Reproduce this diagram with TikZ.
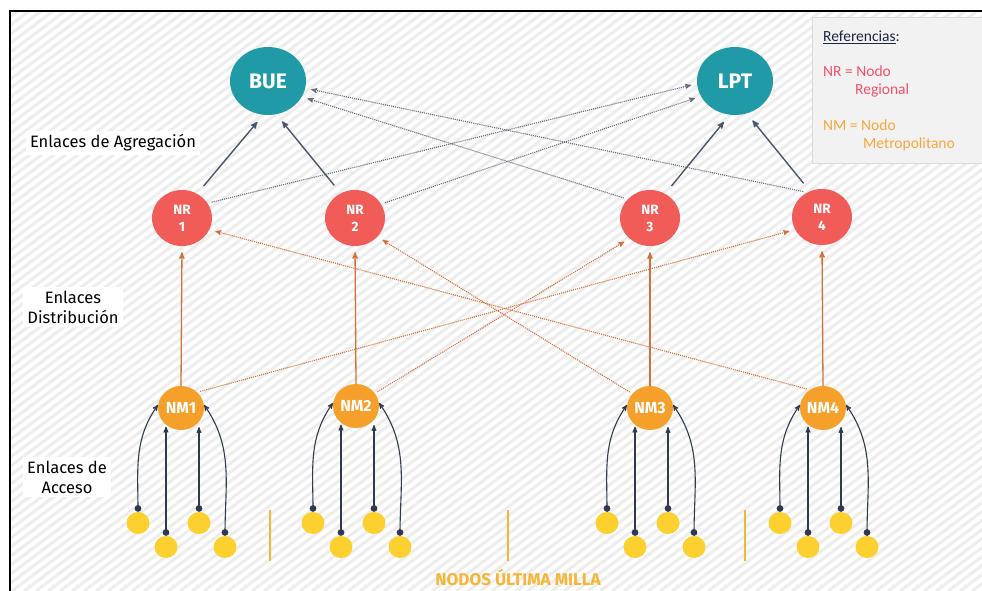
\documentclass[tikz,border=0pt]{standalone}
\usepackage{fontspec}
\setmainfont{Fira Sans}
\newfontfamily\legendfont{Carlito}
\usepackage{tikz}
\usetikzlibrary{arrows,shapes,positioning}

\definecolor{coreteal}{HTML}{1F9AA6}
\definecolor{nrred}{HTML}{F25C58}
\definecolor{nmorange}{HTML}{F4A02A}
\definecolor{dotyellow}{HTML}{FCD12F}
\definecolor{slate}{HTML}{4B5567}
\definecolor{distorange}{HTML}{D2703A}
\definecolor{accessnavy}{HTML}{2F3A4E}
\definecolor{millayellow}{HTML}{F7B535}
\definecolor{refnavy}{HTML}{1C2541}
\definecolor{refpink}{HTML}{F5506C}
\definecolor{reforange}{HTML}{F8A63C}

\begin{document}
\begin{tikzpicture}[x=1pt,y=1pt,>=stealth',auto]
  \tikzstyle{core}=[ellipse,fill=coreteal,text=white,inner sep=0pt,
                    minimum width=76pt,minimum height=68pt,
                    font=\fontsize{21}{21}\selectfont\bfseries]
  \tikzstyle{regional}=[ellipse,fill=nrred,text=white,inner sep=0pt,
                        minimum width=60pt,minimum height=56pt,align=center,
                        font=\fontsize{13.5}{17}\selectfont\bfseries]
  \tikzstyle{metro}=[ellipse,fill=nmorange,text=white,inner sep=0pt,
                     minimum width=46pt,minimum height=44pt,
                     font=\fontsize{16}{16}\selectfont\bfseries]
  \tikzstyle{last mile}=[ellipse,fill=dotyellow,inner sep=0pt,
                         minimum width=23pt,minimum height=22pt]
  \tikzstyle{agg}=[->,draw=slate,line width=1.4pt,shorten <=10pt,shorten >=9pt]
  \tikzstyle{agg cross}=[->,draw=slate!85,densely dotted,line width=1.1pt,
                         shorten <=4pt,shorten >=6pt]
  \tikzstyle{dist}=[->,draw=distorange,line width=1.3pt,shorten >=6pt]
  \tikzstyle{dist cross}=[->,draw=distorange,densely dotted,line width=1.1pt,
                          shorten <=3pt,shorten >=6pt]
  \tikzstyle{access}=[*->,draw=accessnavy,line width=1.1pt]
  \tikzstyle{layer label}=[fill=white,align=center,inner sep=4pt,
                           font=\fontsize{16.5}{20}\selectfont]
  \tikzstyle{separator}=[draw=millayellow,line width=1.5pt]

  \useasboundingbox (0,0) rectangle (982,-591);

  % hatched background
  \begin{scope}
    \clip (10,-11) rectangle (982,-591);
    \foreach \s in {-840,-828,...,990}
      \draw[black!7,line width=3pt] (\s,-591) -- ++(800,600);
  \end{scope}
  \draw[line width=2.2pt] (10,-591) -- (10,-11) -- (982,-11);

  % legend
  \filldraw[fill=black!5,draw=black!15,line width=1pt] (812,-18) rectangle (986,-163);
  \begin{scope}[font=\legendfont\fontsize{15.5}{15.5}\selectfont]
    \node[anchor=base west,text=refnavy,inner sep=0pt] (ref) at (823,-42) {\underline{Referencias}:};
    \node[anchor=base west,text=refpink,inner sep=0pt] (refnr) at (823,-77) {NR = Nodo};
    \node[anchor=base west,text=refpink,inner sep=0pt] (refnr2) at (855,-95) {Regional};
    \node[anchor=base west,text=reforange,inner sep=0pt] (refnm) at (823,-131) {NM = Nodo};
    \node[anchor=base west,text=reforange,inner sep=0pt] (refnm2) at (863,-149) {Metropolitano};
  \end{scope}

  % layer labels
  \node[layer label] (lagg) at (113,-143) {Enlaces de Agregación};
  \node[layer label] (ldist) at (73,-307) {Enlaces\\Distribución};
  \node[layer label] (lacc) at (67,-477) {Enlaces de\\Acceso};

  % core, regional and metropolitan nodes
  \node[core] (bue) at (268,-81) {BUE};
  \node[core] (lpt) at (735,-81) {LPT};

  \node[regional] (nr1) at (182,-218) {NR\\1};
  \node[regional] (nr2) at (355,-218) {NR\\2};
  \node[regional] (nr3) at (650,-218) {NR\\3};
  \node[regional] (nr4) at (822,-217) {NR\\4};

  \node[metro] (nm1) at (181,-408) {NM1};
  \node[metro] (nm2) at (356,-406) {NM2};
  \node[metro] (nm3) at (650,-408) {NM3};
  \node[metro] (nm4) at (823,-408) {NM4};

  % aggregation links
  \draw[agg] (nr1.58) -- (bue.262);
  \draw[agg] (nr2.120) -- (bue.284);
  \draw[agg] (nr3.58) -- (lpt.261);
  \draw[agg] (nr4.115) -- (lpt.290);
  \draw[agg cross] (nr1.30) -- (lpt.184);
  \draw[agg cross] (nr2.28) -- (lpt.204);
  \draw[agg cross] (nr3.140) -- (bue.335);
  \draw[agg cross] (nr4.121) -- (bue.349);

  % distribution links
  \draw[dist] (nm1.north) -- (nr1.south);
  \draw[dist] (nm2.north) -- (nr2.south);
  \draw[dist] (nm3.north) -- (nr3.south);
  \draw[dist] (nm4.north) -- (nr4.south);
  \draw[dist cross] (nm1.44) -- (nr4.205);
  \draw[dist cross] (nm2.34) -- (nr3.225);
  \draw[dist cross] (nm3.141) -- (nr2.320);
  \draw[dist cross] (nm4.126) -- (nr1.337);

  % access links and last mile nodes
  \foreach \n/\cx in {1/181,2/356,3/650,4/823} {
    \node[last mile] (u\n1) at (\cx-43,-523) {};
    \node[last mile] (u\n2) at (\cx-15,-547) {};
    \node[last mile] (u\n3) at (\cx+18,-523) {};
    \node[last mile] (u\n4) at (\cx+44,-547) {};
    \draw[access] (u\n1.north) to[out=90,in=235] (nm\n.172);
    \draw[access] (u\n2.north) -- (u\n2.north |- nm\n.236);
    \draw[access] (u\n3.north) -- (u\n3.north |- nm\n.302);
    \draw[access] (u\n4.north) to[out=90,in=-55] (nm\n.8);
  }

  \draw[separator] (270,-510) -- (270,-561);
  \draw[separator] (508,-510) -- (508,-561);
  \draw[separator] (745,-510) -- (745,-561);
  \node[text=millayellow,font=\fontsize{17}{17}\selectfont\bfseries] (milla) at (518,-578) {NODOS ÚLTIMA MILLA};
\end{tikzpicture}
\end{document}
